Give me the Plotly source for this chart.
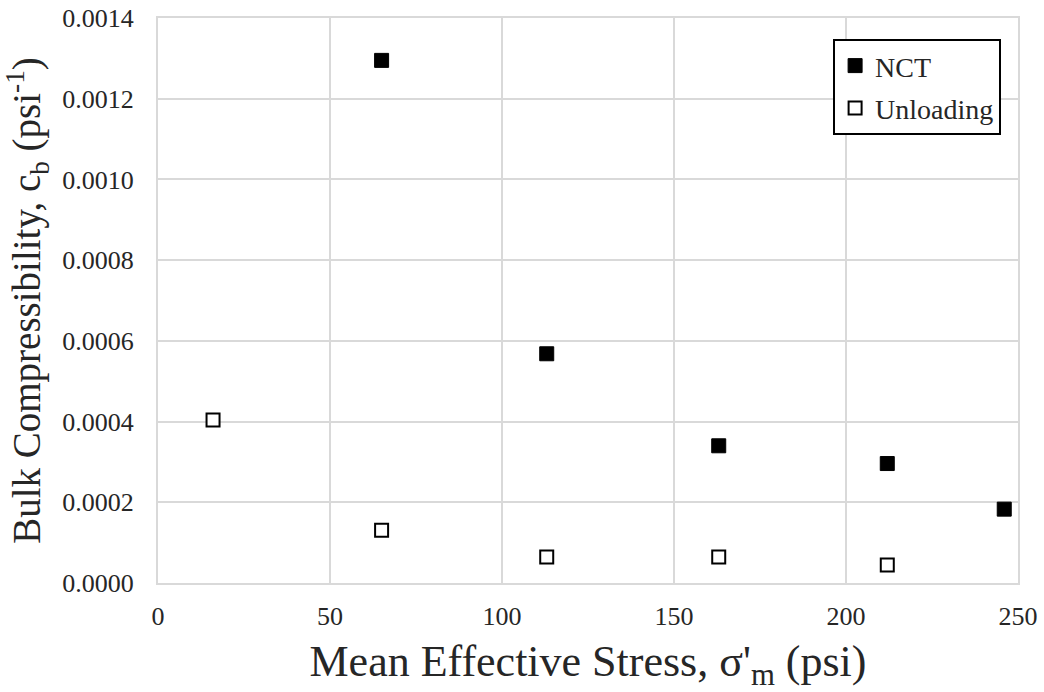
import plotly.graph_objects as go

nct_x = [65, 113, 163, 212, 246]
nct_y = [0.001295, 0.000568, 0.00034, 0.000296, 0.000183]
unl_x = [16, 65, 113, 163, 212]
unl_y = [0.000404, 0.000131, 0.0000645, 0.0000645, 0.0000447]

x_ticks = [0, 50, 100, 150, 200, 250]
y_ticks = [0, 0.0002, 0.0004, 0.0006, 0.0008, 0.0010, 0.0012, 0.0014]

font = "Liberation Serif, Times New Roman, serif"
txt = "#262626"

fig = go.Figure()
fig.add_trace(go.Scatter(x=nct_x, y=nct_y, mode="markers", name="NCT",
                         legendgroup="a",
                         marker=dict(symbol="square", size=14, color="black",
                                     line=dict(color="black", width=1))))
fig.add_trace(go.Scatter(x=unl_x, y=unl_y, mode="markers", name="Unloading",
                         legendgroup="b",
                         marker=dict(symbol="square", size=13, color="white",
                                     line=dict(color="black", width=2))))

fig.update_layout(
    width=1044, height=692,
    margin=dict(l=158, r=26, t=18, b=109),
    paper_bgcolor="white", plot_bgcolor="white",
    font=dict(family=font, color=txt, size=26),
    legend=dict(x=0.785, y=0.963, xanchor="left", yanchor="top",
                bordercolor="black", borderwidth=2, bgcolor="white",
                font=dict(family=font, size=28, color=txt),
                traceorder="grouped", tracegroupgap=3,
                itemwidth=30),
    xaxis=dict(range=[0, 250], tickvals=x_ticks, showgrid=True,
               gridcolor="#d9d9d9", gridwidth=2, zeroline=False,
               showline=True, linecolor="#d9d9d9", linewidth=2, mirror=True,
               ticks="", ticklabelstandoff=9, automargin=False,
               ticklabeloverflow="allow",
               tickfont=dict(family=font, size=26, color=txt),
               title=dict(text="Mean Effective Stress, σ'<sub>m</sub> (psi)",
                          font=dict(family=font, size=44, color=txt),
                          standoff=26)),
    yaxis=dict(range=[0, 0.0014], tickvals=y_ticks, tickformat=".4f",
               showgrid=True, gridcolor="#d9d9d9", gridwidth=2, zeroline=False,
               showline=True, linecolor="#d9d9d9", linewidth=2, mirror=True,
               ticks="", ticklabelstandoff=17, automargin=False,
               ticklabeloverflow="allow",
               tickfont=dict(family=font, size=26, color=txt),
               title=dict(text="Bulk Compressibility, c<sub>b</sub> (psi<sup>-1</sup>)",
                          font=dict(family=font, size=39, color=txt),
                          standoff=20)),
)

fig.write_html("out.html", config={"displayModeBar": False},
               post_script="document.body.style.margin='0';document.body.style.padding='0';")
